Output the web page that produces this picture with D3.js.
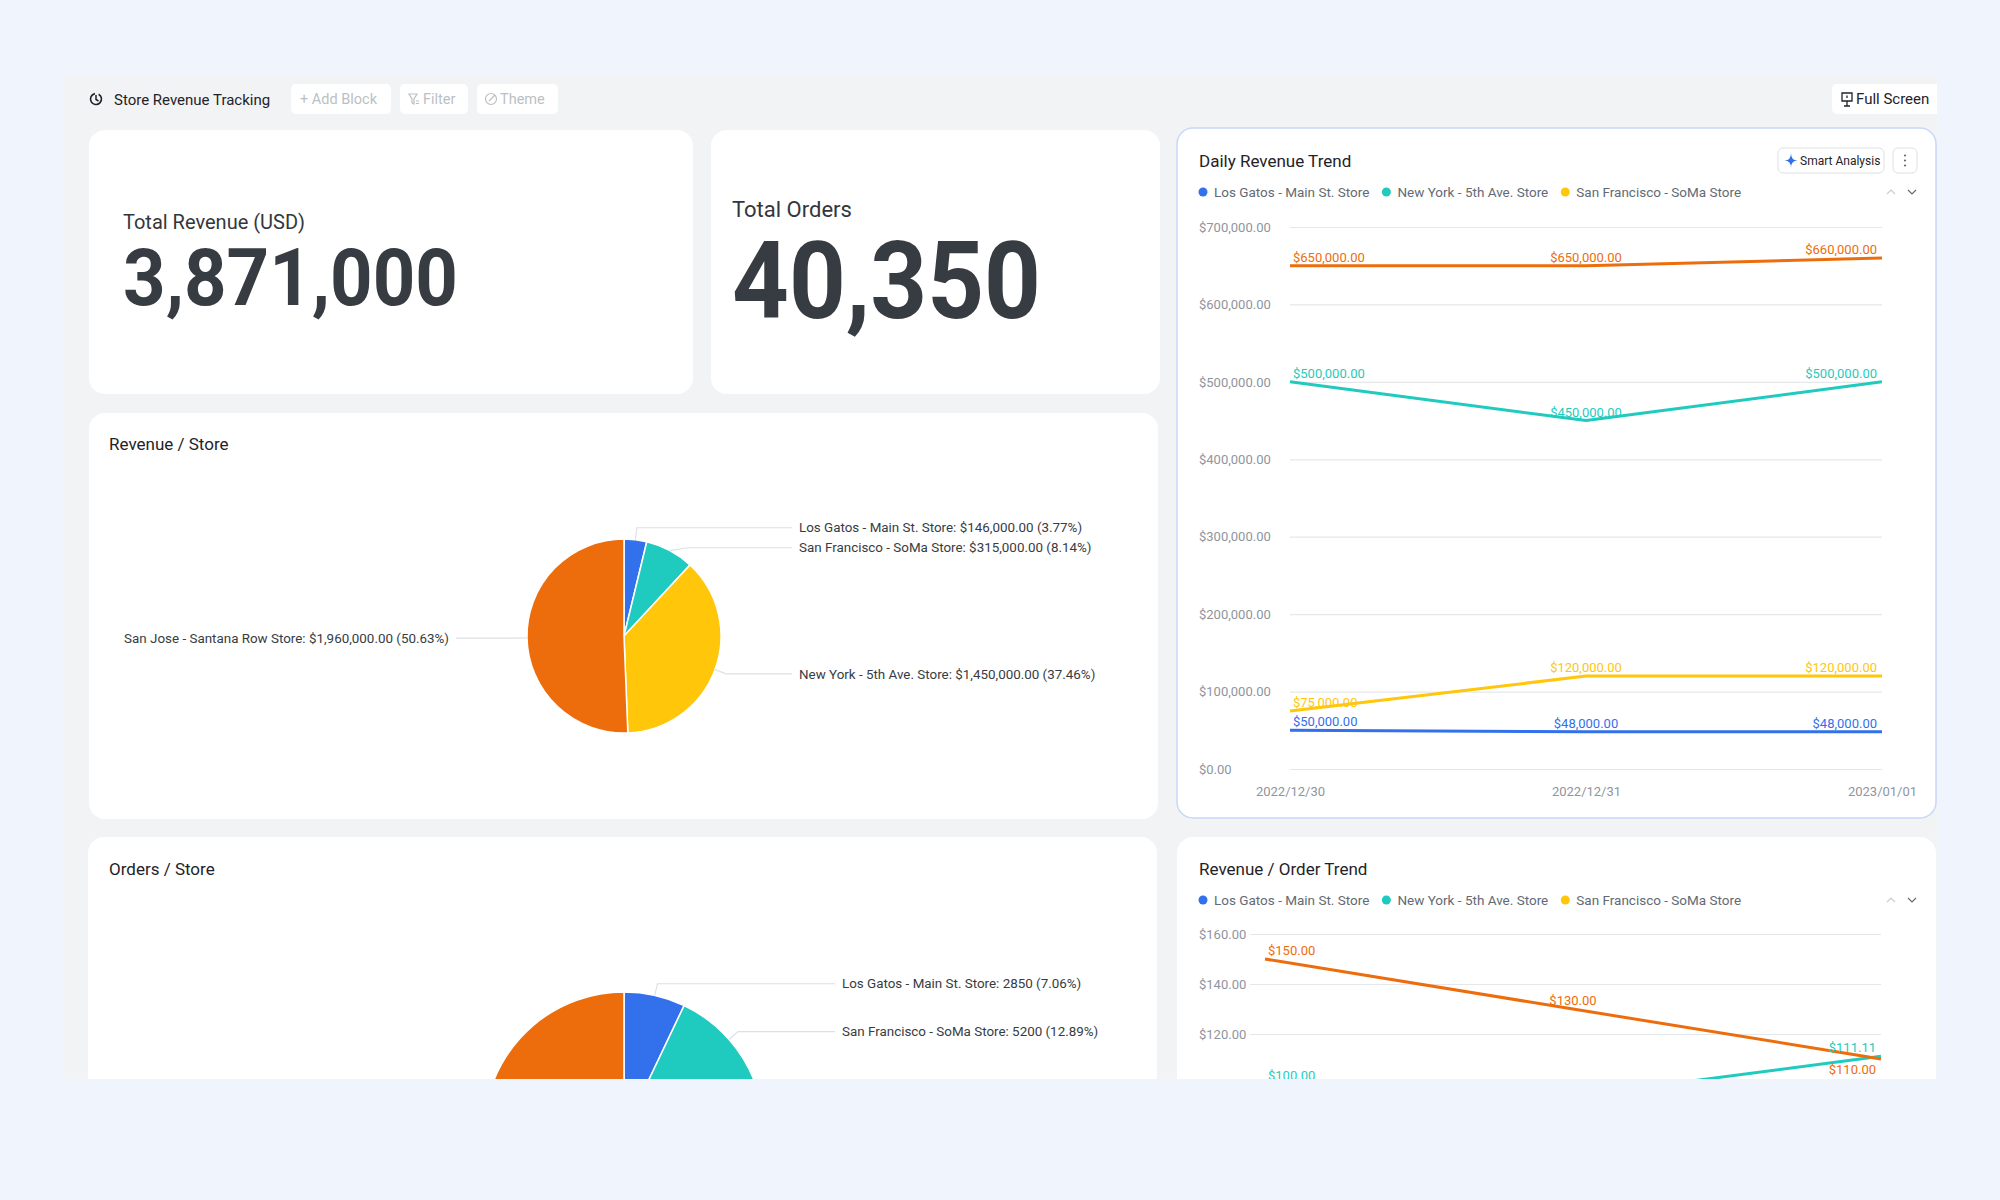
<!DOCTYPE html>
<html>
<head>
<meta charset="utf-8">
<script src="https://cdn.jsdelivr.net/npm/d3@7"></script>
<style>
  body { margin: 0; background: #eff4fd; }
  svg { display: block; }
</style>
</head>
<body>
<div id="chart"></div>
<script>
// ---- data ----
const trendStores = ["Los Gatos - Main St. Store", "New York - 5th Ave. Store", "San Francisco - SoMa Store", "San Jose - Santana Row Store"];
const trendColors = ["#3370eb", "#1fcbbe", "#ffc60a", "#ed6d0c"];
const days = ["2022/12/30", "2022/12/31", "2023/01/01"];
const dailyRevenue = [
  [50000, 48000, 48000],
  [500000, 450000, 500000],
  [75000, 120000, 120000],
  [650000, 650000, 660000]
];
const revenuePerOrder = [
  [50.00, 50.53, 53.33],
  [100.00, 95.00, 111.11],
  [50.00, 64.86, 64.86],
  [150.00, 130.00, 110.00]
];
const revenueTicks = [0, 100000, 200000, 300000, 400000, 500000, 600000, 700000];
const rpoTicks = [0, 20, 40, 60, 80, 100, 120, 140, 160];

const pieStores = ["Los Gatos - Main St. Store", "San Francisco - SoMa Store", "New York - 5th Ave. Store", "San Jose - Santana Row Store"];
const pieColors = ["#3370eb", "#1fcbbe", "#ffc60a", "#ed6d0c"];
const storeRevenue = [146000, 315000, 1450000, 1960000];
const storeOrders = [2850, 5200, 14250, 18050];

const totalRevenue = 3871000;
const totalOrders = 40350;

const FONT = "Roboto, 'Noto Sans', sans-serif";
const money = d3.format("$,.2f");
const comma = d3.format(",");

// ---- page ----
const W = 2000, H = 1200;
const svg = d3.select("#chart").append("svg")
    .attr("width", W).attr("height", H)
    .style("font-family", FONT);

svg.append("rect").attr("width", W).attr("height", H).attr("fill", "#eff4fd");

svg.append("defs").append("clipPath").attr("id", "panelClip")
    .append("rect").attr("x", 64).attr("y", 76).attr("width", 1873).attr("height", 1003);

const panel = svg.append("g").attr("clip-path", "url(#panelClip)");
panel.append("rect").attr("x", 64).attr("y", 76).attr("width", 1873).attr("height", 1003).attr("fill", "#f2f3f5");

function addText(g, x, y, txt, size, color, opts = {}) {
    return g.append("text")
        .attr("x", x).attr("y", y)
        .attr("font-size", size)
        .attr("fill", color)
        .attr("font-weight", opts.weight || 400)
        .attr("text-anchor", opts.anchor || "start")
        .attr("dy", opts.dy || null)
        .text(txt);
}

function card(x, y, w, h, stroke) {
    panel.append("rect")
        .attr("x", x).attr("y", y).attr("width", w).attr("height", h)
        .attr("rx", 16)
        .attr("fill", "#fff")
        .attr("stroke", stroke || "none")
        .attr("stroke-width", stroke ? 1.5 : 0);
}

// ---- toolbar ----
const bar = panel.append("g");
// clock icon
bar.append("path")
    .attr("d", d3.arc().innerRadius(5.5).outerRadius(5.5).startAngle(0.5).endAngle(2 * Math.PI - 0.2)())
    .attr("transform", "translate(96,99)")
    .attr("fill", "none").attr("stroke", "#1f2329").attr("stroke-width", 1.6);
bar.append("path").attr("d", "M96,95 L96,99.5 L98.5,101").attr("fill", "none")
    .attr("stroke", "#1f2329").attr("stroke-width", 1.5);
addText(bar, 114, 104.5, "Store Revenue Tracking", 15, "#1f2329");

const buttons = [
    { x: 291, w: 100 },
    { x: 400, w: 68 },
    { x: 477, w: 81 }
];
buttons.forEach(b => {
    bar.append("rect").attr("x", b.x).attr("y", 84).attr("width", b.w).attr("height", 30)
        .attr("rx", 5).attr("fill", "#fff");
});
addText(bar, 300, 104, "+ Add Block", 14.5, "#bbbfc4");
// filter icon
bar.append("path").attr("d", "M409,94 L417,94 L414,99 L414,104 L412,103 L412,99 Z M416,101 L419,101 M416,103.5 L419,103.5")
    .attr("fill", "none").attr("stroke", "#bbbfc4").attr("stroke-width", 1.2);
addText(bar, 423, 104, "Filter", 14.5, "#bbbfc4");
// theme icon
bar.append("circle").attr("cx", 491).attr("cy", 99).attr("r", 5.5).attr("fill", "none")
    .attr("stroke", "#bbbfc4").attr("stroke-width", 1.2);
bar.append("path").attr("d", "M489,101 L495,95").attr("stroke", "#bbbfc4").attr("stroke-width", 1.2);
addText(bar, 500, 104, "Theme", 14.5, "#bbbfc4");

// full screen button
bar.append("rect").attr("x", 1832).attr("y", 84).attr("width", 112).attr("height", 30)
    .attr("rx", 5).attr("fill", "#fff");
bar.append("path").attr("d", "M1842,93 L1852,93 L1852,101 L1842,101 Z M1847,101 L1847,106 M1844,106 L1850,106 M1847,95.5 L1847,98")
    .attr("fill", "none").attr("stroke", "#1f2329").attr("stroke-width", 1.3);
addText(bar, 1856, 104, "Full Screen", 15, "#1f2329");

// ---- KPI cards ----
card(89, 130, 604, 264);
addText(panel, 123, 229, "Total Revenue (USD)", 20, "#33373d");
addText(panel, 123, 305, comma(totalRevenue), 80, "#373c43", { weight: 700 })
    .attr("textLength", 335).attr("lengthAdjust", "spacingAndGlyphs");

card(711, 130, 449, 264);
addText(panel, 732, 217, "Total Orders", 22, "#33373d");
addText(panel, 732, 318, comma(totalOrders), 107, "#373c43", { weight: 700 })
    .attr("textLength", 309).attr("lengthAdjust", "spacingAndGlyphs");

// ---- line charts ----
function legend(g, x, y, names, colors) {
    let cx = x;
    names.forEach((n, i) => {
        g.append("circle").attr("cx", cx).attr("cy", y).attr("r", 4.5).attr("fill", colors[i]);
        const t = addText(g, cx + 11, y, n, 13.5, "#646a73", { dy: "0.35em" });
        cx = cx + 11 + t.node().getComputedTextLength() + 17;
    });
    // paging arrows
    g.append("path").attr("d", `M1887,${y + 2} L1891,${y - 2} L1895,${y + 2}`)
        .attr("fill", "none").attr("stroke", "#c9cdd4").attr("stroke-width", 1.2);
    g.append("path").attr("d", `M1908,${y - 2} L1912,${y + 2} L1916,${y - 2}`)
        .attr("fill", "none").attr("stroke", "#646a73").attr("stroke-width", 1.2);
}

function lineChart(cfg) {
    const g = panel.append("g");
    const x = d3.scalePoint().domain(days).range([cfg.x0, cfg.x1]);
    const y = d3.scaleLinear().domain([0, d3.max(cfg.ticks)]).range([cfg.yZero, cfg.yTop]);

    const yAxis = g.append("g")
        .attr("transform", `translate(${cfg.gridX0},0)`)
        .call(d3.axisLeft(y).tickValues(cfg.ticks).tickSize(-(cfg.gridX1 - cfg.gridX0)).tickFormat(money))
        .attr("font-family", FONT)
        .attr("font-size", 13);
    yAxis.select(".domain").remove();
    yAxis.selectAll(".tick line").attr("stroke", "#e6e7ea").attr("stroke-width", 1.2);
    yAxis.selectAll(".tick text")
        .attr("x", cfg.labelX - cfg.gridX0)
        .attr("text-anchor", "start")
        .attr("fill", "#8f959e");

    if (cfg.showX) {
        const xAxis = g.append("g")
            .attr("transform", `translate(0,${cfg.yZero})`)
            .call(d3.axisBottom(x).tickSize(0).tickPadding(18))
            .attr("font-family", FONT)
            .attr("font-size", 13);
        xAxis.select(".domain").remove();
        xAxis.selectAll(".tick text").attr("fill", "#8f959e");
    }

    const line = d3.line().x((d, j) => x(days[j])).y(d => y(d));
    cfg.values.forEach((series, i) => {
        g.append("path").datum(series)
            .attr("d", line)
            .attr("fill", "none")
            .attr("stroke", trendColors[i])
            .attr("stroke-width", 3)
            .attr("stroke-linejoin", "round");
    });

    // value labels, moved below the point when they would collide
    const boxes = [];
    cfg.values.forEach((series, i) => {
        series.forEach((v, j) => {
            const px = x(days[j]), py = y(v);
            if (py > 1095) return; // far below the visible panel
            const txt = money(v);
            const w = txt.length * 6.9;
            let anchor = "middle", tx = px, x0 = px - w / 2;
            if (j === 0) { anchor = "start"; tx = px + 3; x0 = tx; }
            if (j === series.length - 1) { anchor = "end"; tx = px - 5; x0 = tx - w; }
            let base = py - 4;
            const hit = b => !(x0 + w < b.x0 || x0 > b.x1 || base < b.y0 || base - 13 > b.y1);
            if (boxes.some(hit)) base = py + 15;
            boxes.push({ x0: x0, x1: x0 + w, y0: base - 13, y1: base });
            addText(g, tx, base, txt, 13, trendColors[i], { anchor: anchor });
        });
    });
}

// Daily Revenue Trend
card(1177, 128, 759, 690, "#c8d8fa");
addText(panel, 1199, 167, "Daily Revenue Trend", 17, "#1f2329");
panel.append("rect").attr("x", 1778).attr("y", 148).attr("width", 106).attr("height", 25)
    .attr("rx", 5).attr("fill", "#fff").attr("stroke", "#dee0e3");
panel.append("path")
    .attr("d", "M1791,153 Q1791,160.5 1797.5,160.5 Q1791,160.5 1791,168 Q1791,160.5 1784.5,160.5 Q1791,160.5 1791,153 Z")
    .attr("fill", "#3370eb");
addText(panel, 1800, 161, "Smart Analysis", 12, "#1f2329", { dy: "0.35em" });
panel.append("rect").attr("x", 1893).attr("y", 148).attr("width", 24).attr("height", 25)
    .attr("rx", 5).attr("fill", "#fff").attr("stroke", "#dee0e3");
[155.5, 160.5, 165.5].forEach(cy => panel.append("circle").attr("cx", 1905).attr("cy", cy).attr("r", 1.1).attr("fill", "#646a73"));
legend(panel.append("g"), 1203, 192, trendStores.slice(0, 3), trendColors);

lineChart({
    x0: 1290, x1: 1882, gridX0: 1290, gridX1: 1882, labelX: 1199,
    yZero: 769, yTop: 227, ticks: revenueTicks, values: dailyRevenue, showX: true
});

// ---- pies ----
function pieChart(cx, cy, r, names, values, fmtValue) {
    const g = panel.append("g");
    const arcs = d3.pie().sort(null).value(d => d)(values);
    const arc = d3.arc().innerRadius(0).outerRadius(r);
    const total = d3.sum(values);

    g.selectAll("path.slice").data(arcs).join("path")
        .attr("class", "slice")
        .attr("transform", `translate(${cx},${cy})`)
        .attr("d", arc)
        .attr("fill", (d, i) => pieColors[i])
        .attr("stroke", "#fff")
        .attr("stroke-width", 1.5);

    const R2 = r + 12;
    const items = arcs.map((d, i) => {
        const a = (d.startAngle + d.endAngle) / 2;
        return { i: i, a: a, right: Math.sin(a) >= 0, y: cy - R2 * Math.cos(a) };
    });
    [true, false].forEach(side => {
        const list = items.filter(it => it.right === side).sort((p, q) => p.y - q.y);
        for (let k = 1; k < list.length; k++) {
            if (list[k].y < list[k - 1].y + 20) list[k].y = list[k - 1].y + 20;
        }
    });
    items.forEach(it => {
        if (it.y > 1095) return; // label sits below the visible panel
        const s = it.right ? 1 : -1;
        const dy = it.y - cy;
        const dx = Math.sqrt(Math.max(0, R2 * R2 - dy * dy)) * s;
        const pts = [
            [cx + r * Math.sin(it.a), cy - r * Math.cos(it.a)],
            [cx + dx, it.y],
            [cx + s * (r + 71), it.y]
        ];
        g.append("path").attr("d", d3.line()(pts))
            .attr("fill", "none").attr("stroke", "#dee0e3").attr("stroke-width", 1.2);
        const pct = (values[it.i] / total * 100).toFixed(2);
        addText(g, cx + s * (r + 78), it.y,
            `${names[it.i]}: ${fmtValue(values[it.i])} (${pct}%)`, 13.4, "#373c43",
            { anchor: it.right ? "start" : "end", dy: "0.35em" });
    });
}

card(89, 413, 1069, 406);
addText(panel, 109, 450, "Revenue / Store", 17, "#1f2329");
pieChart(624, 636, 97, pieStores, storeRevenue, money);

card(88, 837, 1069, 320);
addText(panel, 109, 875, "Orders / Store", 17, "#1f2329");
pieChart(624, 1132, 140, pieStores, storeOrders, d => String(d));

// ---- Revenue / Order Trend ----
card(1177, 837, 759, 320);
addText(panel, 1199, 875, "Revenue / Order Trend", 17, "#1f2329");
legend(panel.append("g"), 1203, 900, trendStores.slice(0, 3), trendColors);
lineChart({
    x0: 1265, x1: 1881, gridX0: 1250, gridX1: 1881, labelX: 1199,
    yZero: 1334, yTop: 934, ticks: rpoTicks.filter(t => t >= 120), values: revenuePerOrder, showX: false
});
</script>
</body>
</html>
